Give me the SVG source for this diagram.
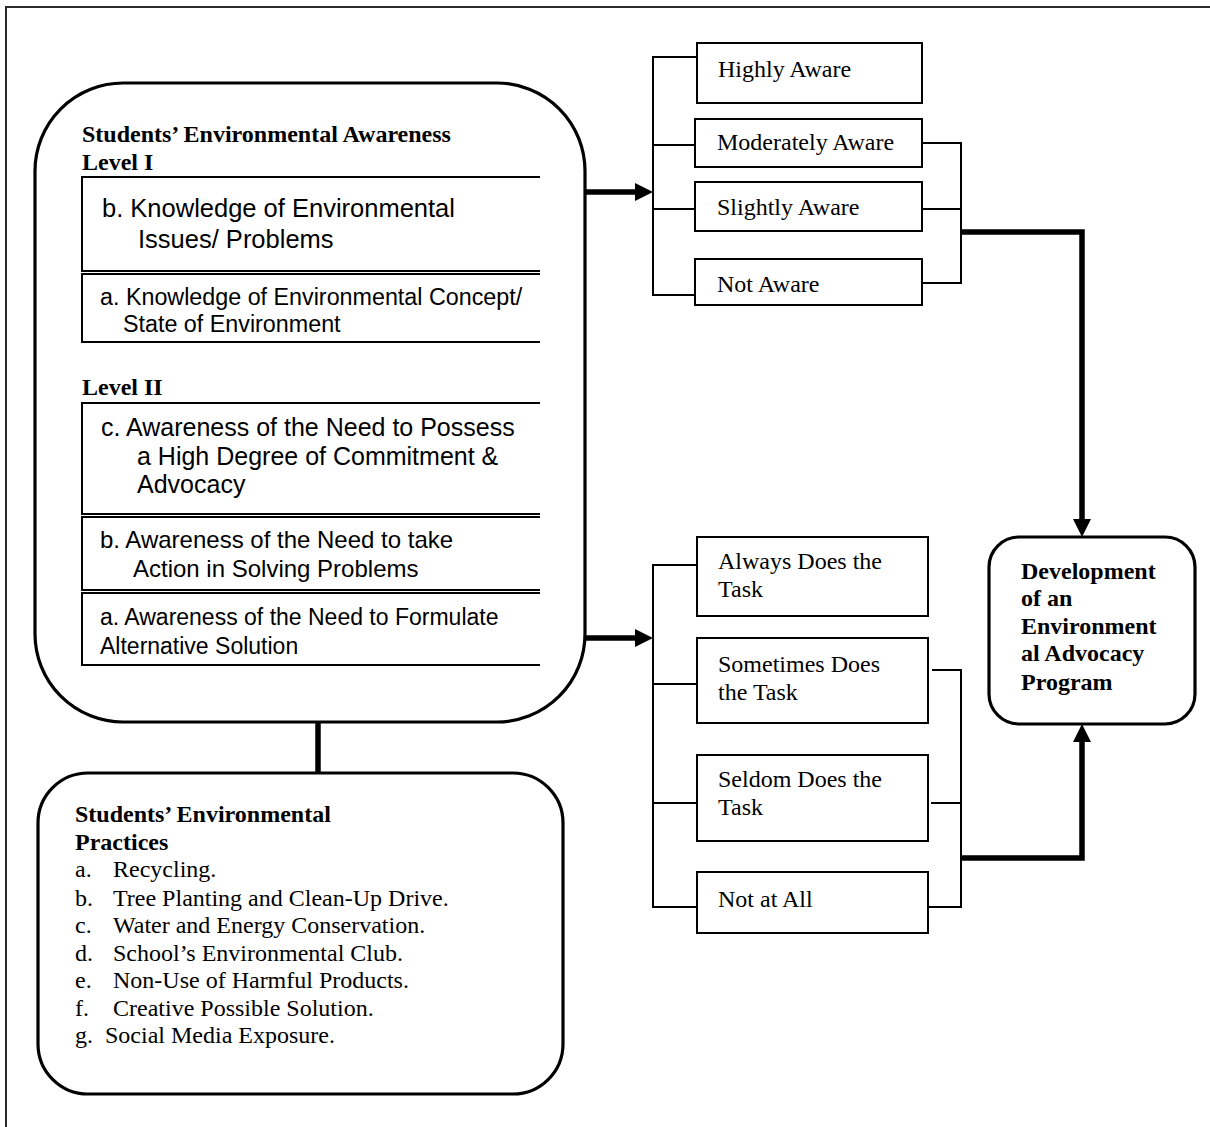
<svg xmlns="http://www.w3.org/2000/svg" width="1210" height="1127" viewBox="0 0 1210 1127">
<style>
.serif{font-family:"Liberation Serif","Times New Roman",serif;font-size:24px;fill:#000}
.bold{font-weight:bold}
.sans{font-family:"Liberation Sans",Arial,sans-serif;fill:#000}
.box{fill:#fff;stroke:#000;stroke-width:2}
.rbox{fill:#fff;stroke:#000;stroke-width:3.2}
.thin{fill:none;stroke:#000;stroke-width:2}
.thick{fill:none;stroke:#000;stroke-width:5.5}
.frame{fill:none;stroke:#2a2a2a;stroke-width:2}
</style>
<rect width="1210" height="1127" fill="#fff"/>
<path class="frame" d="M6,1127 L6,7 L1210,7"/>

<g id="connectors">
<path class="thick" d="M585,192 L637,192"/>
<path d="M635,183 L653,192 L635,201 Z" fill="#000"/>
<path class="thin" d="M697,57 L653,57 L653,295 L697,295 M653,145 L697,145 M653,209 L697,209"/>
<path class="thin" d="M922,143 L961,143 L961,283 L922,283 M922,209 L961,209"/>
<path class="thick" d="M961,232 L1082,232 L1082,521"/>
<path d="M1073,519 L1082,537 L1091,519 Z" fill="#000"/>
<path class="thick" d="M585,638 L637,638"/>
<path d="M635,629 L653,638 L635,647 Z" fill="#000"/>
<path class="thin" d="M697,565 L653,565 L653,907 L697,907 M653,684 L697,684 M653,803 L697,803"/>
<path class="thin" d="M932,670 L961,670 L961,907 L928,907 M931,803 L961,803"/>
<path class="thick" d="M961,858 L1082,858 L1082,740"/>
<path d="M1073,742 L1082,724 L1091,742 Z" fill="#000"/>
<path class="thick" d="M318,722 L318,773"/>
</g>

<g id="awareness">
<rect class="rbox" x="35" y="83" width="550" height="639" rx="88" ry="88"/>
<text class="serif bold" x="82" y="142">Students’ Environmental Awareness</text>
<text class="serif bold" x="82" y="170">Level I</text>
<path class="thin" d="M540,177 L82,177 L82,271 L540,271 M540,274 L82,274 L82,342 L540,342"/>
<text class="sans" font-size="25.5" x="102" y="217">b. Knowledge of Environmental</text>
<text class="sans" font-size="25.5" x="138" y="248">Issues/ Problems</text>
<text class="sans" font-size="23.3" x="100" y="305">a. Knowledge of Environmental Concept/</text>
<text class="sans" font-size="23.3" x="123" y="332">State of Environment</text>
<text class="serif bold" x="82" y="395">Level II</text>
<path class="thin" d="M540,403 L82,403 L82,514 L540,514 M540,517 L82,517 L82,590 L540,590 M540,593 L82,593 L82,665 L540,665"/>
<text class="sans" font-size="25" x="101" y="436">c. Awareness of the Need to Possess</text>
<text class="sans" font-size="25" x="137" y="465">a High Degree of Commitment &amp;</text>
<text class="sans" font-size="25" x="137" y="493">Advocacy</text>
<text class="sans" font-size="24" x="100" y="548">b. Awareness of the Need to take</text>
<text class="sans" font-size="24" x="133" y="577">Action in Solving Problems</text>
<text class="sans" font-size="23" x="100" y="625">a. Awareness of the Need to Formulate</text>
<text class="sans" font-size="23" x="100" y="654">Alternative Solution</text>
</g>

<g id="practices">
<rect class="rbox" x="38" y="773" width="525" height="321" rx="50" ry="50"/>
<text class="serif bold" x="75" y="822">Students’ Environmental</text>
<text class="serif bold" x="75" y="850">Practices</text>
<text class="serif" x="75" y="877">a.</text><text class="serif" x="113" y="877">Recycling.</text>
<text class="serif" x="75" y="906">b.</text><text class="serif" x="113" y="906">Tree Planting and Clean-Up Drive.</text>
<text class="serif" x="75" y="933">c.</text><text class="serif" x="113" y="933">Water and Energy Conservation.</text>
<text class="serif" x="75" y="961">d.</text><text class="serif" x="113" y="961">School’s Environmental Club.</text>
<text class="serif" x="75" y="988">e.</text><text class="serif" x="113" y="988">Non-Use of Harmful Products.</text>
<text class="serif" x="75" y="1016">f.</text><text class="serif" x="113" y="1016">Creative Possible Solution.</text>
<text class="serif" x="75" y="1043">g.</text><text class="serif" x="105" y="1043">Social Media Exposure.</text>
</g>

<g id="highly-aware"><rect class="box" x="697" y="43" width="225" height="60"/><text class="serif" x="718" y="77">Highly Aware</text></g>
<g id="moderately-aware"><rect class="box" x="695" y="119" width="227" height="48"/><text class="serif" x="717" y="150">Moderately Aware</text></g>
<g id="slightly-aware"><rect class="box" x="695" y="182" width="227" height="49"/><text class="serif" x="717" y="215">Slightly Aware</text></g>
<g id="not-aware"><rect class="box" x="695" y="259" width="227" height="46"/><text class="serif" x="717" y="292">Not Aware</text></g>

<g id="always"><rect class="box" x="697" y="537" width="231" height="79"/><text class="serif" x="718" y="569">Always Does the</text><text class="serif" x="718" y="597">Task</text></g>
<g id="sometimes"><rect class="box" x="697" y="638" width="231" height="85"/><text class="serif" x="718" y="672">Sometimes Does</text><text class="serif" x="718" y="700">the Task</text></g>
<g id="seldom"><rect class="box" x="697" y="755" width="231" height="86"/><text class="serif" x="718" y="787">Seldom Does the</text><text class="serif" x="718" y="815">Task</text></g>
<g id="not-at-all"><rect class="box" x="697" y="872" width="231" height="61"/><text class="serif" x="718" y="907">Not at All</text></g>

<g id="development">
<rect class="rbox" x="989" y="537" width="206" height="187" rx="30" ry="30"/>
<text class="serif bold" x="1021" y="579">Development</text>
<text class="serif bold" x="1021" y="606">of an</text>
<text class="serif bold" x="1021" y="634">Environment</text>
<text class="serif bold" x="1021" y="661">al Advocacy</text>
<text class="serif bold" x="1021" y="690">Program</text>
</g>
</svg>
